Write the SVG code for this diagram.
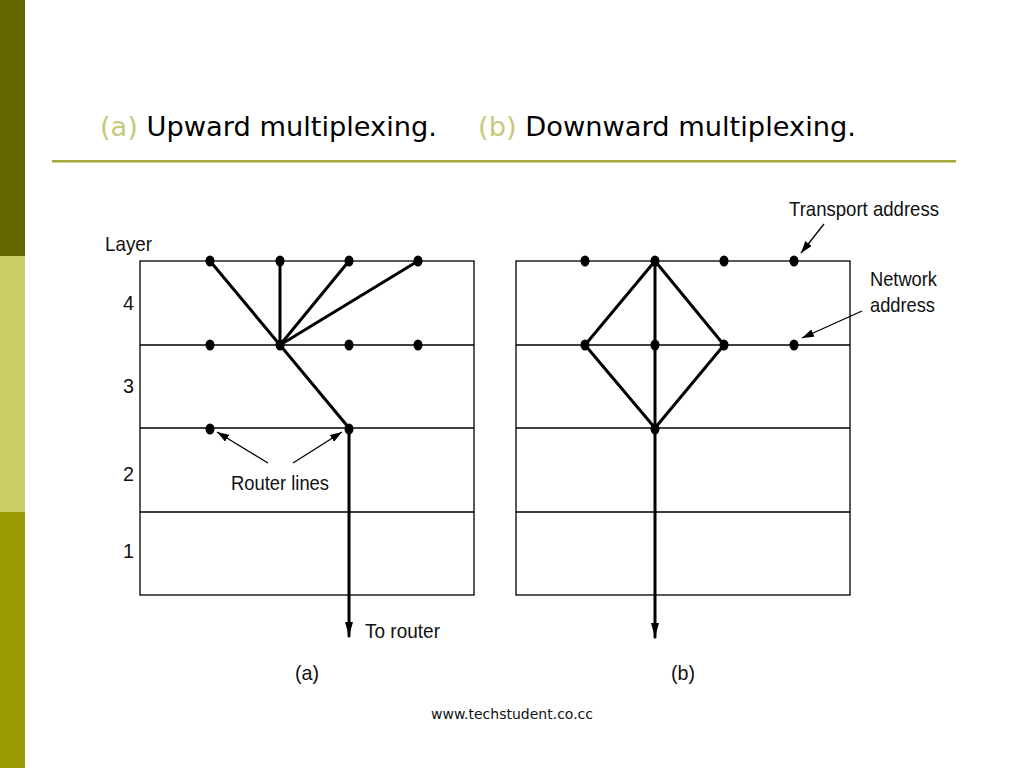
<svg xmlns="http://www.w3.org/2000/svg" width="1024" height="768" viewBox="0 0 1024 768">
<style>
.grid{fill:none;stroke:#000;stroke-width:1.3}
.conn{stroke:#000;stroke-width:3;fill:none;stroke-linecap:round}
.thin{stroke:#000;stroke-width:1.3;fill:none}
.dot{fill:#000}
.lbl{font-family:"Liberation Sans",Arial,sans-serif;font-size:21px;fill:#111}
.title{font-family:"DejaVu Sans",Verdana,sans-serif;font-size:27px;fill:#000}
.acc{fill:#c8c878}
</style>
<defs>
<marker id="big" viewBox="0 0 14 8" refX="14" refY="4" markerWidth="14" markerHeight="8" markerUnits="userSpaceOnUse" orient="auto">
<path d="M0,0 L14,4 L0,8 Z" fill="#000"/>
</marker>
<marker id="small" viewBox="0 0 12 8" refX="12" refY="4" markerWidth="12" markerHeight="8" markerUnits="userSpaceOnUse" orient="auto">
<path d="M0,0 L12,4 L0,8 Z" fill="#000"/>
</marker>
</defs>
<rect width="1024" height="768" fill="#fff"/>
<g id="sidebar">
<rect x="0" y="0" width="25" height="256" fill="#666600"/>
<rect x="0" y="256" width="25" height="256" fill="#cccc66"/>
<rect x="0" y="512" width="25" height="256" fill="#999900"/>
</g>
<g id="title">
<text x="100" y="136" class="title" textLength="337" lengthAdjust="spacingAndGlyphs"><tspan class="acc">(a)</tspan> Upward multiplexing.</text>
<text x="478" y="136" class="title" textLength="378" lengthAdjust="spacingAndGlyphs"><tspan class="acc">(b)</tspan> Downward multiplexing.</text>
<rect x="52" y="160" width="904" height="2.5" fill="#a8a838"/>
</g>
<g id="grid-a">
<rect x="140" y="261" width="334" height="334" class="grid"/>
<line x1="140" y1="345" x2="474" y2="345" class="grid"/>
<line x1="140" y1="428" x2="474" y2="428" class="grid"/>
<line x1="140" y1="512" x2="474" y2="512" class="grid"/>
</g>
<g id="grid-b">
<rect x="516" y="261" width="334" height="334" class="grid"/>
<line x1="516" y1="345" x2="850" y2="345" class="grid"/>
<line x1="516" y1="428" x2="850" y2="428" class="grid"/>
<line x1="516" y1="512" x2="850" y2="512" class="grid"/>
</g>
<g id="connectors">
<line x1="280" y1="345" x2="210" y2="261" class="conn"/>
<line x1="280" y1="345" x2="280" y2="261" class="conn"/>
<line x1="280" y1="345" x2="349" y2="261" class="conn"/>
<line x1="280" y1="345" x2="418" y2="261" class="conn"/>
<line x1="280" y1="345" x2="349" y2="428" class="conn"/>
<line x1="349" y1="428" x2="349" y2="636" class="conn" stroke-linecap="butt" marker-end="url(#big)"/>
<line x1="655" y1="261" x2="585" y2="345" class="conn"/>
<line x1="655" y1="261" x2="724" y2="345" class="conn"/>
<line x1="585" y1="345" x2="655" y2="428" class="conn"/>
<line x1="724" y1="345" x2="655" y2="428" class="conn"/>
<line x1="655" y1="261" x2="655" y2="637" class="conn" stroke-linecap="butt" marker-end="url(#big)"/>
<line x1="268" y1="463" x2="217" y2="432" class="thin" marker-end="url(#small)"/>
<line x1="293" y1="463" x2="342" y2="432" class="thin" marker-end="url(#small)"/>
<line x1="824" y1="224" x2="801" y2="253" class="thin" marker-end="url(#small)"/>
<line x1="862" y1="311" x2="802" y2="338" class="thin" marker-end="url(#small)"/>
</g>
<g id="dots-a">
<ellipse cx="210" cy="261" rx="4.5" ry="5.5" class="dot"/>
<ellipse cx="280" cy="261" rx="4.5" ry="5.5" class="dot"/>
<ellipse cx="349" cy="261" rx="4.5" ry="5.5" class="dot"/>
<ellipse cx="418" cy="261" rx="4.5" ry="5.5" class="dot"/>
<ellipse cx="210" cy="345" rx="4.5" ry="5.5" class="dot"/>
<ellipse cx="280" cy="345" rx="4.5" ry="5.5" class="dot"/>
<ellipse cx="349" cy="345" rx="4.5" ry="5.5" class="dot"/>
<ellipse cx="418" cy="345" rx="4.5" ry="5.5" class="dot"/>
<ellipse cx="210" cy="429" rx="4.5" ry="5.5" class="dot"/>
<ellipse cx="349" cy="429" rx="4.5" ry="5.5" class="dot"/>
</g>
<g id="dots-b">
<ellipse cx="585" cy="261" rx="4.5" ry="5.5" class="dot"/>
<ellipse cx="655" cy="261" rx="4.5" ry="5.5" class="dot"/>
<ellipse cx="724" cy="261" rx="4.5" ry="5.5" class="dot"/>
<ellipse cx="794" cy="261" rx="4.5" ry="5.5" class="dot"/>
<ellipse cx="585" cy="345" rx="4.5" ry="5.5" class="dot"/>
<ellipse cx="655" cy="345" rx="4.5" ry="5.5" class="dot"/>
<ellipse cx="724" cy="345" rx="4.5" ry="5.5" class="dot"/>
<ellipse cx="794" cy="345" rx="4.5" ry="5.5" class="dot"/>
<ellipse cx="655" cy="429" rx="4.5" ry="5.5" class="dot"/>
</g>
<g id="labels">
<text x="105" y="251" class="lbl" textLength="47" lengthAdjust="spacingAndGlyphs">Layer</text>
<text x="123" y="310" class="lbl" textLength="11" lengthAdjust="spacingAndGlyphs">4</text>
<text x="123" y="393" class="lbl" textLength="11" lengthAdjust="spacingAndGlyphs">3</text>
<text x="123" y="481" class="lbl" textLength="11" lengthAdjust="spacingAndGlyphs">2</text>
<text x="123" y="558" class="lbl" textLength="11" lengthAdjust="spacingAndGlyphs">1</text>
<text x="231" y="490" class="lbl" textLength="98" lengthAdjust="spacingAndGlyphs">Router lines</text>
<text x="365" y="638" class="lbl" textLength="75" lengthAdjust="spacingAndGlyphs">To router</text>
<text x="295" y="680" class="lbl" textLength="24" lengthAdjust="spacingAndGlyphs">(a)</text>
<text x="671" y="680" class="lbl" textLength="24" lengthAdjust="spacingAndGlyphs">(b)</text>
<text x="789" y="216" class="lbl" textLength="150" lengthAdjust="spacingAndGlyphs">Transport address</text>
<text x="870" y="286" class="lbl" textLength="67" lengthAdjust="spacingAndGlyphs">Network</text>
<text x="870" y="312" class="lbl" textLength="65" lengthAdjust="spacingAndGlyphs">address</text>
</g>
<text x="512" y="719" text-anchor="middle" font-family="DejaVu Sans, Verdana, sans-serif" font-size="14" fill="#111">www.techstudent.co.cc</text>
</svg>
